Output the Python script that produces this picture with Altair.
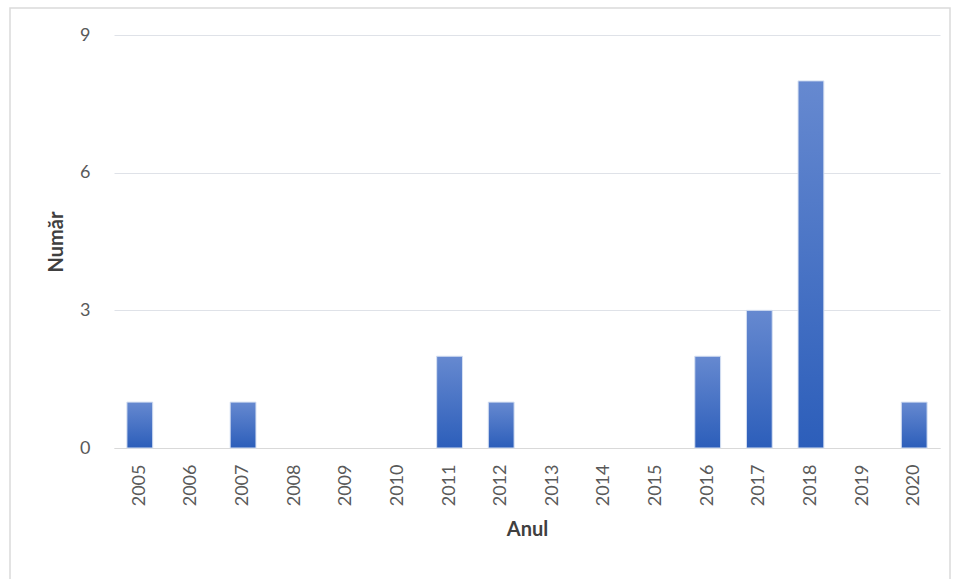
import altair as alt
import pandas as pd

years = [str(y) for y in range(2005, 2021)]
counts = [1, 0, 1, 0, 0, 0, 2, 1, 0, 0, 0, 2, 3, 8, 0, 1]
y_ticks = [0, 3, 6, 9]

df = pd.DataFrame({"Anul": years, "Număr": counts})

FONT = "Lato"
grad = alt.Gradient(
    gradient="linear",
    stops=[alt.GradientStop(color="#6689d0", offset=0),
           alt.GradientStop(color="#2c5eba", offset=1)],
    x1=0, x2=0, y1=0, y2=1,
)

bars = alt.Chart(df).transform_filter("datum['Număr'] > 0").mark_bar(
    color=grad, stroke="#d6e0f2", strokeWidth=1
).encode(
    x=alt.X("Anul:O", sort=years,
            scale=alt.Scale(domain=years, paddingInner=0.5, paddingOuter=0.25),
            axis=alt.Axis(title="Anul", labelAngle=-90, ticks=False, tickSize=0,
                          grid=False,
                          labelPadding=16, titlePadding=14,
                          domainColor="#d9d9d9", labelColor="#595959",
                          labelFontSize=18, titleFontSize=20, titleColor="#404040",
                          titleFontWeight="bold", labelFont=FONT, titleFont=FONT)),
    y=alt.Y("Număr:Q",
            scale=alt.Scale(domain=[0, 9], nice=False),
            axis=alt.Axis(title="Număr", values=y_ticks, ticks=False, tickSize=0,
                          domain=False, gridColor="#dfe2e8", labelPadding=24,
                          titlePadding=13, labelColor="#595959",
                          labelFontSize=18, titleFontSize=20, titleColor="#404040",
                          titleFontWeight="bold", labelFont=FONT, titleFont=FONT)),
)

frame = alt.Chart(pd.DataFrame({"a": [0]})).mark_rect(
    fill="transparent", stroke="#dadada", strokeWidth=1.5
).encode(
    x=alt.value(-104), x2=alt.value(836), y=alt.value(-27), y2=alt.value(560)
)

chart = alt.layer(frame, bars).properties(
    width=826, height=413,
    autosize=alt.AutoSizeParams(type="none"),
    padding={"left": 114, "top": 35, "right": 14, "bottom": 131},
    background="white",
).configure_view(stroke="transparent", strokeWidth=0)

chart.save("out.html", embed_options={"renderer": "svg", "actions": False})
